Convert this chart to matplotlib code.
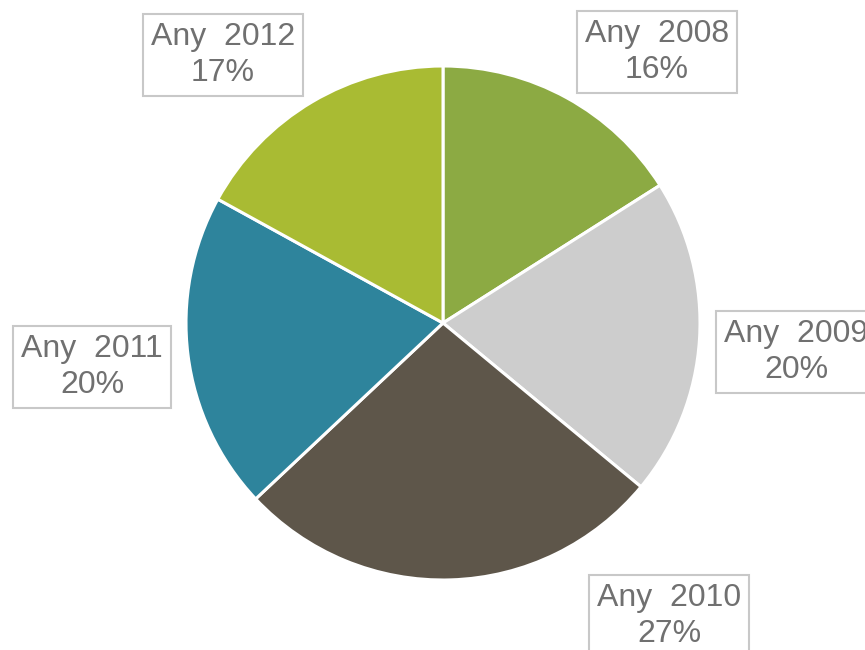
import matplotlib
matplotlib.use("Agg")
import matplotlib.pyplot as plt

categories = ["Any  2008", "Any  2009", "Any  2010", "Any  2011", "Any  2012"]
values = [16, 20, 27, 20, 17]
colors = ["#8CAA43", "#CDCDCD", "#5E564A", "#2E849C", "#A9BB33"]
label_pos = [(657, 52), (796, 352), (669, 616), (92, 367), (223, 55)]

W, H = 865, 650
fig = plt.figure(figsize=(W / 100, H / 100), dpi=100)
ax = fig.add_axes([0, 0, 1, 1])
ax.set_xlim(0, W)
ax.set_ylim(0, H)
ax.axis("off")

ax.pie(values, colors=colors, startangle=90, counterclock=False,
       center=(443, H - 323), radius=257,
       wedgeprops=dict(edgecolor="white", linewidth=2.2))
ax.set_xlim(0, W)
ax.set_ylim(0, H)
ax.set_aspect("equal")

for cat, v, (px, py) in zip(categories, values, label_pos):
    ax.text(px, H - py, f"{cat}\n{v}%", ha="center", va="center",
            fontsize=23, color="#707070", family=["Liberation Sans", "DejaVu Sans"],
            linespacing=1.25,
            bbox=dict(boxstyle="square,pad=0.26", facecolor="white",
                      edgecolor="#C8C8C8", linewidth=1.5))

fig.savefig("out.png", dpi=100)
